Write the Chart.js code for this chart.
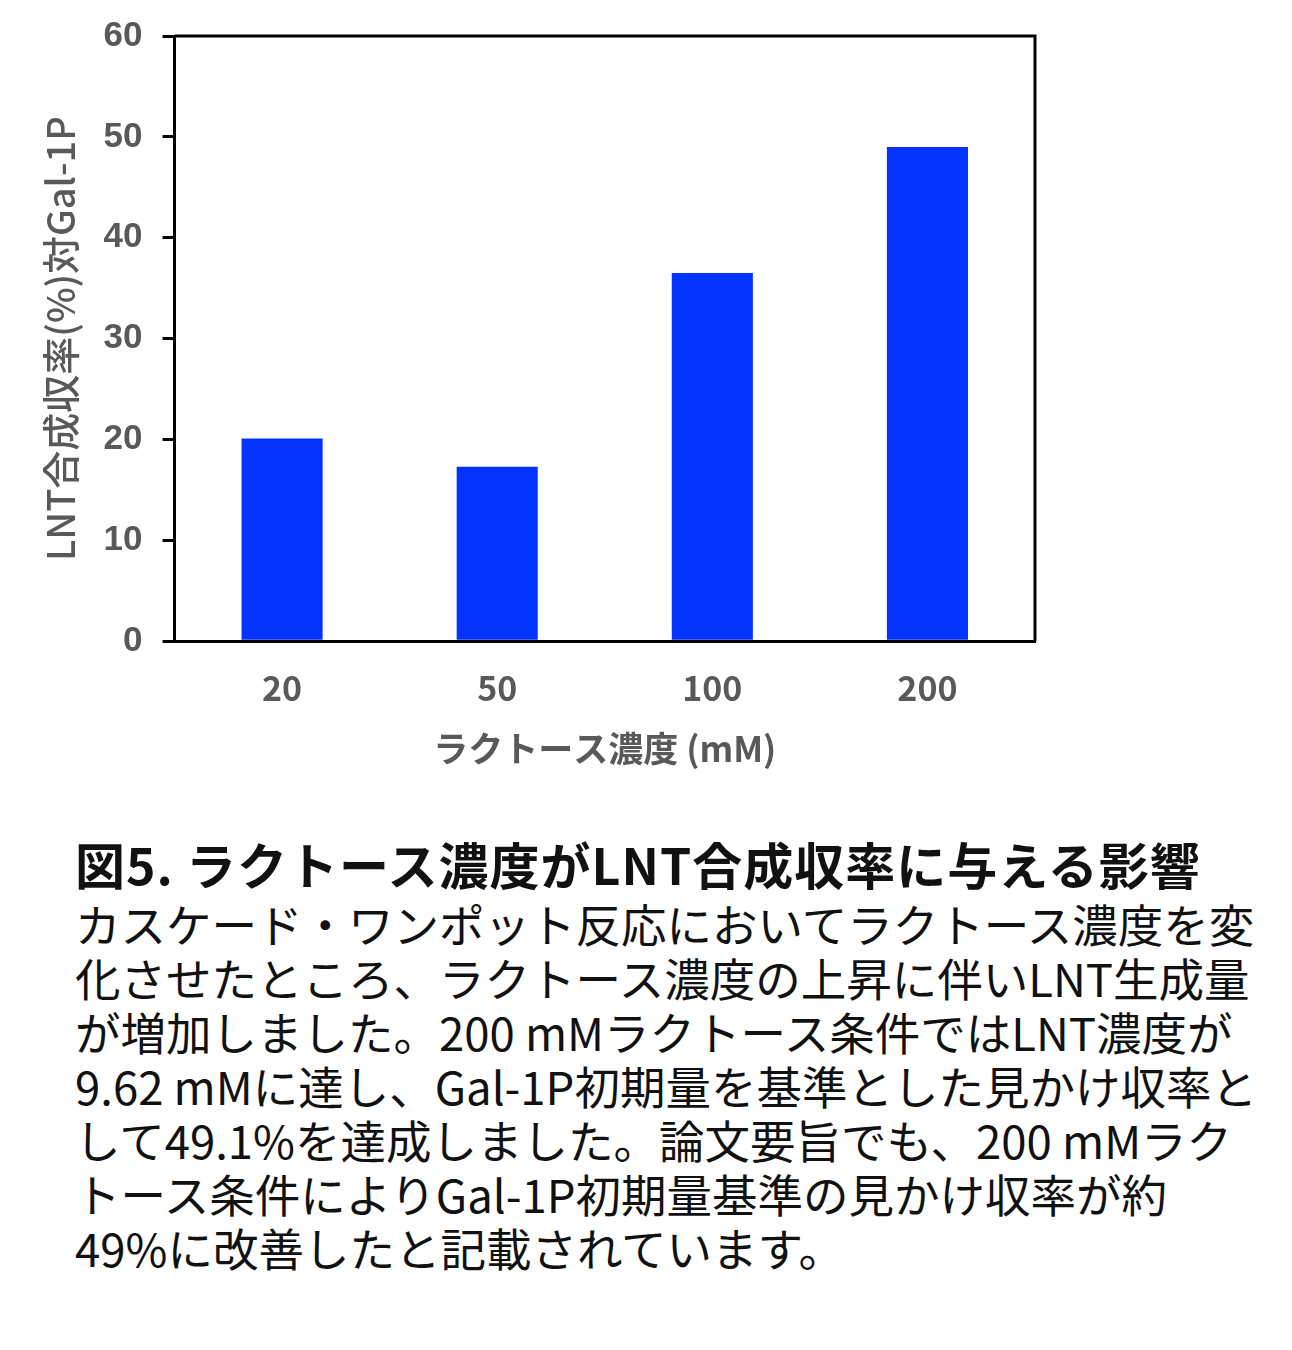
<!DOCTYPE html>
<html lang="ja">
<head>
<meta charset="utf-8">
<script src="https://cdn.jsdelivr.net/npm/chart.js@4"></script>
<style>
  body { margin: 0; background: #fff; width: 1292px; height: 1350px; position: relative; overflow: hidden; }
  #wrap { position: absolute; left: 0; top: -5px; width: 1292px; height: 790px; }
  #caption { position: absolute; left: 75px; top: 830px; width: 1215px; font-family: "Noto Sans CJK JP", sans-serif; color: #111; }
  #caption h2 { margin: 0; font-size: 50px; font-weight: 700; line-height: 66px; letter-spacing: 1px; }
  #caption p { margin: 0; font-size: 45.5px; line-height: 54px; font-weight: 400; }
</style>
</head>
<body>
<div id="wrap"><canvas id="lntChart"></canvas></div>
<div id="caption">
  <h2>図5. ラクトース濃度がLNT合成収率に与える影響</h2>
  <p>カスケード・ワンポット反応においてラクトース濃度を変<br>化させたところ、ラクトース濃度の上昇に伴いLNT生成量<br>が増加しました。200 mMラクトース条件ではLNT濃度が<br>9.62 mMに達し、Gal-1P初期量を基準とした見かけ収率と<br>して49.1%を達成しました。論文要旨でも、200 mMラク<br>トース条件によりGal-1P初期量基準の見かけ収率が約<br>49%に改善したと記載されています。</p>
</div>
<script>
// lactose concentration (mM) and LNT yield (%) vs Gal-1P
const lactoseLabels = ["20", "50", "100", "200"];
const yieldValues = [20.1, 17.3, 36.5, 49.0];
const yTicks = [0, 10, 20, 30, 40, 50, 60];

const font = "'Noto Sans CJK JP', 'Noto Sans', sans-serif";
const grey = "#595959";

// draws top and right sides of the plot box
const boxPlugin = {
  id: "box",
  afterDraw(chart) {
    const a = chart.chartArea;
    const ctx = chart.ctx;
    ctx.save();
    ctx.strokeStyle = "#000";
    ctx.lineWidth = 3;
    ctx.beginPath();
    ctx.moveTo(a.left, a.top);
    ctx.lineTo(a.right, a.top);
    ctx.lineTo(a.right, a.bottom);
    ctx.stroke();
    ctx.restore();
  }
};

let chart = new Chart(document.getElementById("lntChart").getContext("2d"), {
  type: "bar",
  data: {
    labels: lactoseLabels,
    datasets: [{
      data: yieldValues,
      backgroundColor: "#0433FF",
      categoryPercentage: 1.0,
      barPercentage: 0.377
    }]
  },
  options: {
    responsive: true,
    maintainAspectRatio: false,
    animation: false,
    layout: { padding: { top: 15, right: 257, left: 34, bottom: 11 } },
    plugins: { legend: { display: false }, tooltip: { enabled: false } },
    scales: {
      x: {
        grid: { display: false, drawTicks: false },
        border: { color: "#000", width: 3 },
        ticks: { color: grey, font: { family: font, size: 34, weight: "bold" }, padding: 26 },
        title: { display: true, text: "ラクトース濃度 (mM)", color: grey, font: { family: font, size: 35, weight: "bold" }, padding: { top: -6 } }
      },
      y: {
        min: 0,
        max: 60,
        afterBuildTicks(axis) { axis.ticks = yTicks.map(v => ({ value: v })); },
        grid: { drawOnChartArea: false, color: "#000", lineWidth: 3, tickLength: 12 },
        border: { color: "#000", width: 3 },
        ticks: { color: grey, font: { family: "'Liberation Sans', Arial, sans-serif", size: 35, weight: "bold" }, padding: 20 },
        title: { display: true, text: "LNT合成収率(%)対Gal-1P", color: grey, font: { family: font, size: 38, weight: 500 }, padding: { bottom: 0 } }
      }
    }
  },
  plugins: [boxPlugin]
});
</script>
</body>
</html>
